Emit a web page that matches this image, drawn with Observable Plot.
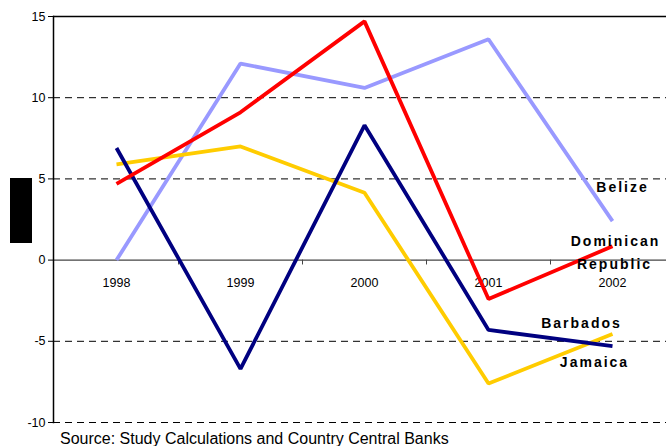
<!DOCTYPE html>
<html>
<head>
<meta charset="utf-8">
<script src="https://cdn.jsdelivr.net/npm/d3@7"></script>
<script src="https://cdn.jsdelivr.net/npm/@observablehq/plot@0.6"></script>
<style>
  html, body { margin: 0; padding: 0; background: #fff; overflow: hidden; }
  #wrap { position: relative; width: 666px; height: 446px; font-family: "Liberation Sans", Arial, sans-serif; }
  #redact { position: absolute; left: 10px; top: 178px; width: 22px; height: 65px; background: #000; }
  #caption { position: absolute; left: 60px; top: 430px; font-size: 16px; color: #000; white-space: nowrap; }
</style>
</head>
<body>
<div id="wrap">
  <div id="chart"></div>
  <div id="redact"></div>
  <div id="caption">Source: Study Calculations and Country Central Banks</div>
</div>
<script>
const years = ["1998", "1999", "2000", "2001", "2002"];
const yTicks = [-10, -5, 0, 5, 10, 15];
const belize = [0.0, 12.1, 10.6, 13.6, 2.4];
const dominican = [4.7, 9.1, 14.7, -2.4, 0.85];
const jamaica = [6.9, -6.7, 8.3, -4.3, -5.3];
const barbados = [5.9, 7.0, 4.15, -7.6, -4.55];

const seriesNames = ["Belize", "Barbados", "Jamaica", "Dominican Republic"];
const seriesValues = [belize, barbados, jamaica, dominican];
const seriesColors = ["#9999FF", "#FFCC00", "#000080", "#FF0000"];

const rows = seriesNames.flatMap((name, i) =>
  years.map((yr, j) => ({ series: name, year: yr, value: seriesValues[i][j] })));

// label anchors (series end point in 2002) with pixel offsets
const labels = [
  { text: "Belize", year: "2002", value: belize[4], dx: 10, dy: -34 },
  { text: "Dominican", year: "2002", value: dominican[4], dx: 3, dy: -5 },
  { text: "Republic", year: "2002", value: dominican[4], dx: 2, dy: 18 },
  { text: "Barbados", year: "2002", value: jamaica[4], dx: -31, dy: -23 },
  { text: "Jamaica", year: "2002", value: jamaica[4], dx: -18, dy: 16 }
];

const font = "Liberation Sans, Arial, sans-serif";

const chart = Plot.plot({
  width: 666,
  height: 430,
  marginLeft: 53,
  marginTop: 16,
  marginBottom: 8,
  marginRight: 0,
  style: { fontFamily: font, fontSize: "12px", color: "#000", background: "#fff", overflow: "visible" },
  x: { type: "band", domain: years, range: [53, 674], padding: 0, axis: null },
  y: { domain: [-10, 15], ticks: yTicks },
  color: { domain: seriesNames, range: seriesColors },
  marks: [
    Plot.ruleY([10, 5, -5, -10], { stroke: "#000", strokeWidth: 1, strokeDasharray: "7,5" }),
    Plot.ruleY([15], { stroke: "#000", strokeWidth: 1.5 }),
    Plot.ruleY([0], { stroke: "#444", strokeWidth: 1.2 }),
    Plot.ruleX(years.slice(1), { x: d => d, y1: 0, y2: -0.3, stroke: "#444", dx: -62 }),
    Plot.frame({ anchor: "left", stroke: "#000", strokeWidth: 1.5 }),
    Plot.axisY({ ticks: yTicks, tickSize: 5, tickPadding: 3, label: null, fontSize: 12.5, stroke: "#000", tickFormat: d => String(d) }),
    Plot.text(years, { x: d => d, y: 0, dy: 23, text: d => d, fontSize: 12.5, fill: "#000" }),
    Plot.line(rows, { x: "year", y: "value", z: "series", stroke: "series", strokeWidth: 3.8, strokeLinejoin: "miter", strokeLinecap: "butt" }),
    ...labels.map(l => Plot.text([l], { x: "year", y: "value", text: "text", dx: l.dx, dy: l.dy, fontWeight: "bold", fontSize: 14, fill: "#000" }))
  ]
});
d3.select(chart).selectAll("g[font-weight='bold'] text, g[font-weight='bold']").style("letter-spacing", "2px");
document.getElementById("chart").appendChild(chart);
</script>
</body>
</html>
